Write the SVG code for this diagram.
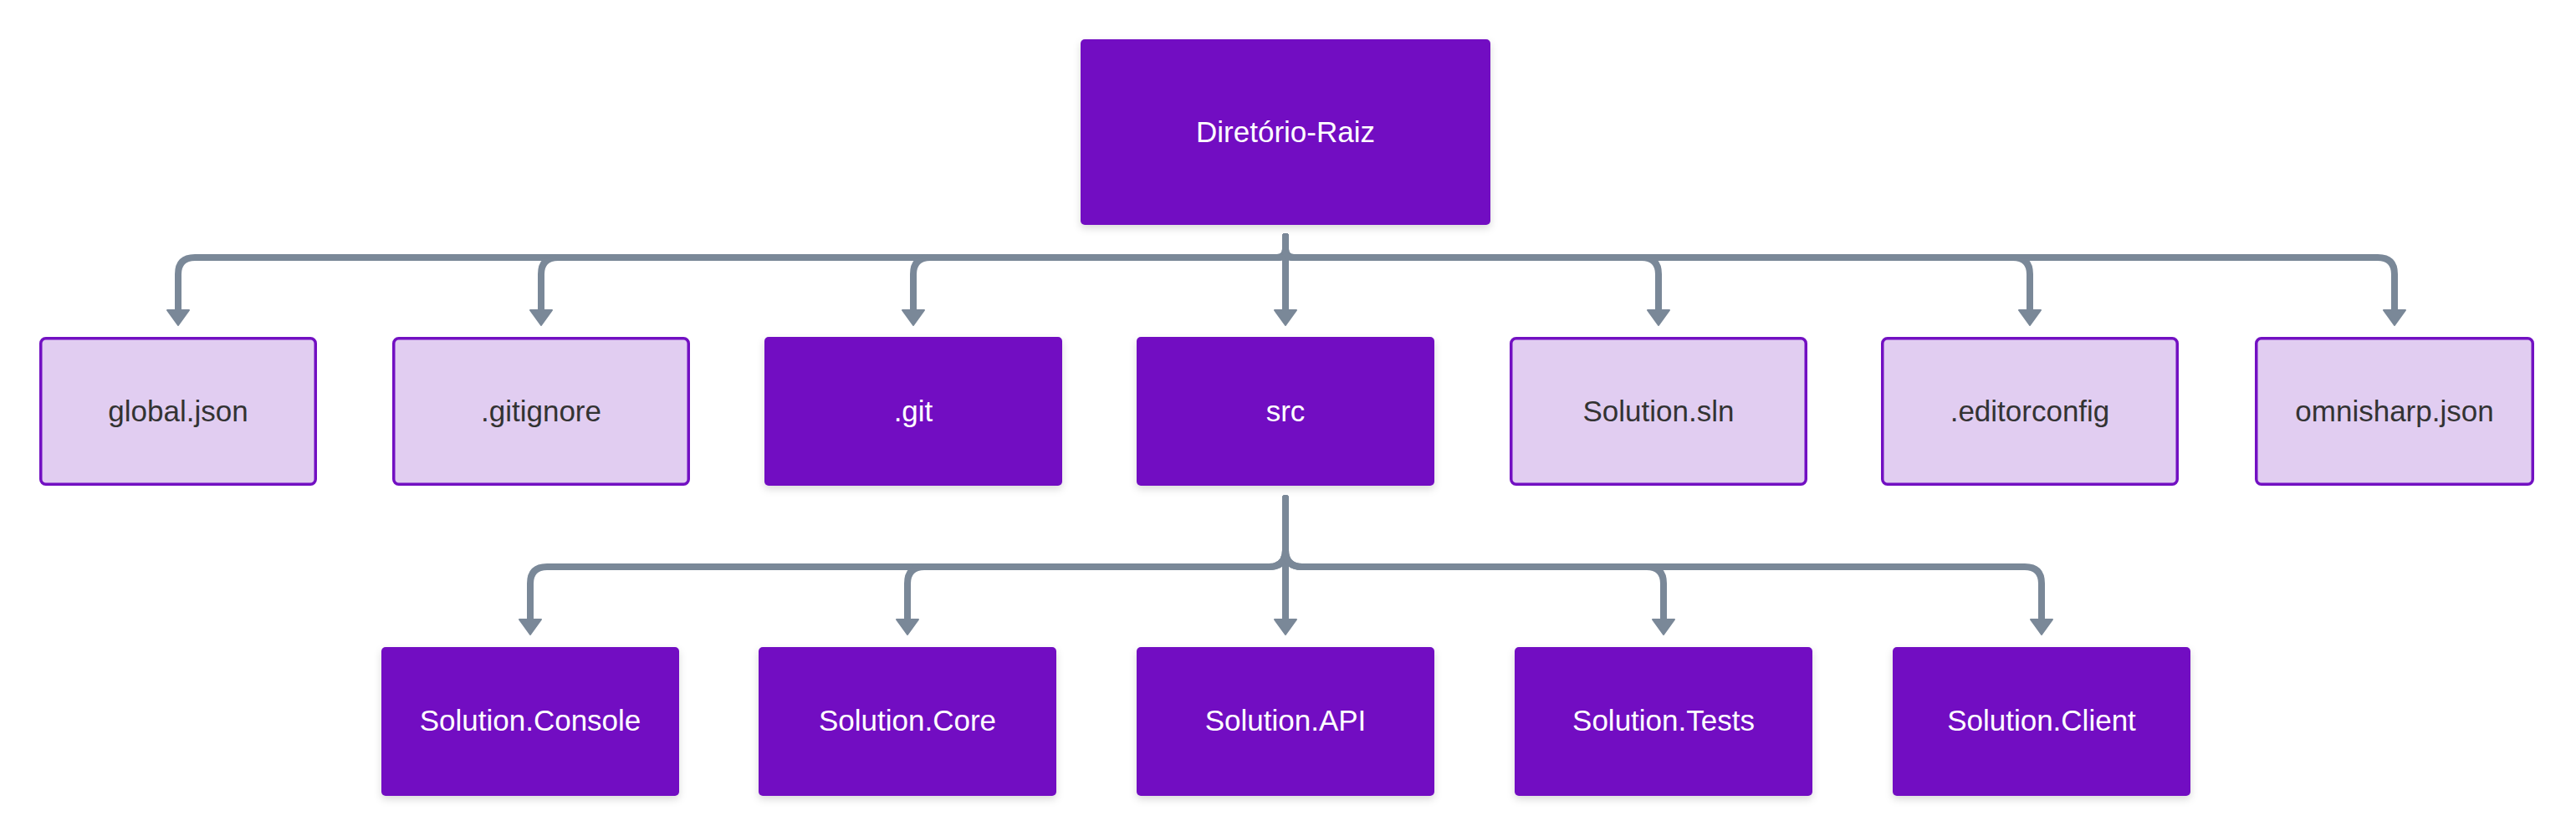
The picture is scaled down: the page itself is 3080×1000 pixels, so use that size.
<svg xmlns="http://www.w3.org/2000/svg" width="3080" height="1000" viewBox="0 0 3080 1000">
<style>
.dark{fill:#7210c2;}
.light{fill:#e1cdf1;stroke:#7210c2;stroke-width:3.5;}
.tw{fill:#ffffff;font-family:"Liberation Sans",Arial,sans-serif;font-size:35px;text-anchor:middle;}
.td{fill:#333333;font-family:"Liberation Sans",Arial,sans-serif;font-size:35px;text-anchor:middle;}
.edge{fill:none;stroke:#7a8898;stroke-width:8;stroke-linecap:round;stroke-linejoin:round;}
</style>
<defs>
<filter id="sh" x="-10%" y="-10%" width="120%" height="130%">
<feDropShadow dx="0" dy="4" stdDeviation="5" flood-color="#000000" flood-opacity="0.15"/>
</filter>
<marker id="arr" markerUnits="userSpaceOnUse" viewBox="0 0 20 28" refX="1" refY="14" markerWidth="20" markerHeight="28" orient="auto">
<path d="M1,1 L19,14 L1,27 Z" fill="#7a8898" stroke="#7a8898" stroke-width="2" stroke-linejoin="round"/>
</marker>
</defs>
<rect width="3080" height="1000" fill="#ffffff"/>
<g id="connectors">
<path class="edge" marker-end="url(#arr)" d="M1537 283 L1537 298 Q1537 308 1527 308 L233 308 Q213 308 213 328 L213 371"/>
<path class="edge" marker-end="url(#arr)" d="M1537 283 L1537 298 Q1537 308 1527 308 L667 308 Q647 308 647 328 L647 371"/>
<path class="edge" marker-end="url(#arr)" d="M1537 283 L1537 298 Q1537 308 1527 308 L1112 308 Q1092 308 1092 328 L1092 371"/>
<path class="edge" marker-end="url(#arr)" d="M1537 283 L1537 371"/>
<path class="edge" marker-end="url(#arr)" d="M1537 283 L1537 298 Q1537 308 1547 308 L1963 308 Q1983 308 1983 328 L1983 371"/>
<path class="edge" marker-end="url(#arr)" d="M1537 283 L1537 298 Q1537 308 1547 308 L2407 308 Q2427 308 2427 328 L2427 371"/>
<path class="edge" marker-end="url(#arr)" d="M1537 283 L1537 298 Q1537 308 1547 308 L2843 308 Q2863 308 2863 328 L2863 371"/>
<path class="edge" marker-end="url(#arr)" d="M1537 596 L1537 658 Q1537 678 1517 678 L654 678 Q634 678 634 698 L634 741"/>
<path class="edge" marker-end="url(#arr)" d="M1537 596 L1537 658 Q1537 678 1517 678 L1105 678 Q1085 678 1085 698 L1085 741"/>
<path class="edge" marker-end="url(#arr)" d="M1537 596 L1537 741"/>
<path class="edge" marker-end="url(#arr)" d="M1537 596 L1537 658 Q1537 678 1557 678 L1969 678 Q1989 678 1989 698 L1989 741"/>
<path class="edge" marker-end="url(#arr)" d="M1537 596 L1537 658 Q1537 678 1557 678 L2421 678 Q2441 678 2441 698 L2441 741"/>
</g>
<g id="root">
<rect class="dark" filter="url(#sh)" x="1292" y="47" width="490" height="222" rx="5"/>
<text class="tw" x="1537" y="170">Diretório-Raiz</text>
</g>
<g id="global-json">
<rect class="light" x="48.75" y="404.75" width="328.5" height="174.5" rx="6"/>
<text class="td" x="213" y="504">global.json</text>
</g>
<g id="gitignore">
<rect class="light" x="470.75" y="404.75" width="352.5" height="174.5" rx="6"/>
<text class="td" x="647" y="504">.gitignore</text>
</g>
<g id="git">
<rect class="dark" filter="url(#sh)" x="914" y="403" width="356" height="178" rx="5"/>
<text class="tw" x="1092" y="504">.git</text>
</g>
<g id="src">
<rect class="dark" filter="url(#sh)" x="1359" y="403" width="356" height="178" rx="5"/>
<text class="tw" x="1537" y="504">src</text>
</g>
<g id="solution-sln">
<rect class="light" x="1806.75" y="404.75" width="352.5" height="174.5" rx="6"/>
<text class="td" x="1983" y="504">Solution.sln</text>
</g>
<g id="editorconfig">
<rect class="light" x="2250.75" y="404.75" width="352.5" height="174.5" rx="6"/>
<text class="td" x="2427" y="504">.editorconfig</text>
</g>
<g id="omnisharp-json">
<rect class="light" x="2697.75" y="404.75" width="330.5" height="174.5" rx="6"/>
<text class="td" x="2863" y="504">omnisharp.json</text>
</g>
<g id="solution-console">
<rect class="dark" filter="url(#sh)" x="456" y="774" width="356" height="178" rx="5"/>
<text class="tw" x="634" y="874">Solution.Console</text>
</g>
<g id="solution-core">
<rect class="dark" filter="url(#sh)" x="907" y="774" width="356" height="178" rx="5"/>
<text class="tw" x="1085" y="874">Solution.Core</text>
</g>
<g id="solution-api">
<rect class="dark" filter="url(#sh)" x="1359" y="774" width="356" height="178" rx="5"/>
<text class="tw" x="1537" y="874">Solution.API</text>
</g>
<g id="solution-tests">
<rect class="dark" filter="url(#sh)" x="1811" y="774" width="356" height="178" rx="5"/>
<text class="tw" x="1989" y="874">Solution.Tests</text>
</g>
<g id="solution-client">
<rect class="dark" filter="url(#sh)" x="2263" y="774" width="356" height="178" rx="5"/>
<text class="tw" x="2441" y="874">Solution.Client</text>
</g>
</svg>
